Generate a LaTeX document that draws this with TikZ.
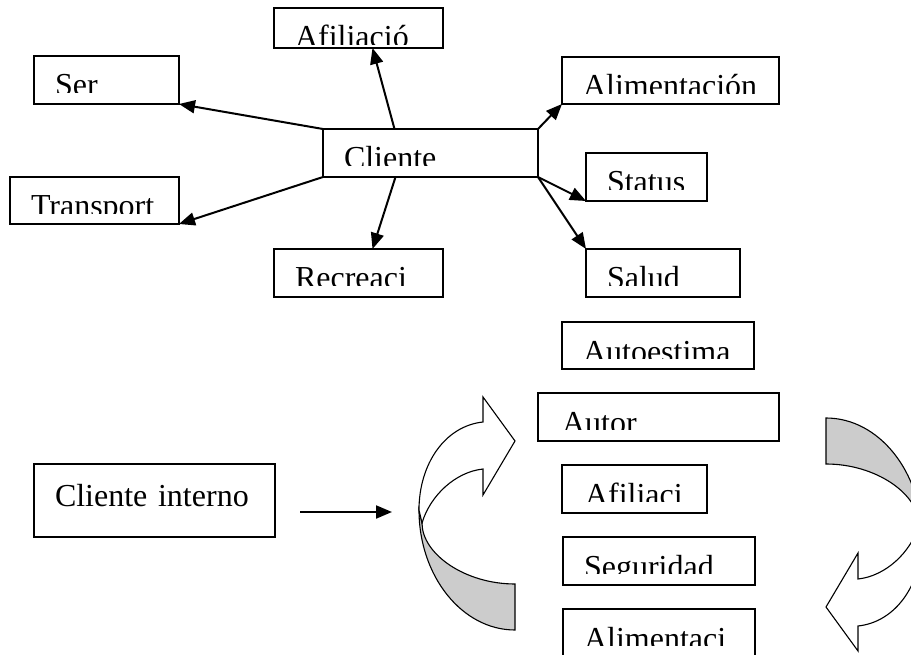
\documentclass[tikz,border=0pt]{standalone}
\usepackage{fontspec}
\setmainfont{Liberation Serif}
\definecolor{curlgray}{RGB}{204,204,204}
\usetikzlibrary{arrows.meta,positioning,calc}

\tikzset{
  caja/.style={draw,line width=2pt,anchor=north west,outer sep=0pt,
    inner xsep=21pt,inner ysep=0pt,text height=40pt,align=left,
    font=\fontsize{32}{36}\selectfont},
  conn/.style={line width=2pt,-{Triangle[length=16pt,width=13pt]}},
  curl/.pic={
    %% back side (grey)
    \filldraw[fill=curlgray,line width=1.1pt] (0,60) -- (0,106)
      .. controls (-53,106) and (-96,52) .. (-96,-14) -- (-93,-1)
      .. controls (-93,30) and (-50,60) .. (0,60) -- cycle;
    %% front side with head
    \filldraw[fill=white,line width=1.1pt] (-96,-14)
      .. controls (-96,-60) and (-70,-98) .. (-32,-102)
      -- (-32,-127) -- (0,-83) -- (-32,-29) -- (-32,-55)
      .. controls (-60,-52) and (-85,-28) .. (-93,-1) -- cycle;
  }
}

\begin{document}
\begin{tikzpicture}[x=1pt,y=-1pt]
  \clip (0,0) rectangle (911,655);

  %% Top group around Cliente
  \node[caja,text width=173pt,text depth=8pt] (cliente) at (323,129) {Cliente};
  \node[caja,text width=103pt,text depth=8pt] (ser) at (34,56) {Ser};
  \node[caja,text width=127pt,text depth=7pt] (transport) at (10,177) {Transport};
  \node[caja,text width=127pt,text depth=0pt] (afiliacio) at (274,8) {Afiliació};
  \node[caja,text width=127pt,text depth=8pt] (recreaci) at (274,249) {Recreaci};
  \node[caja,text width=175pt,text depth=7pt] (alimentacion) at (562,57) {Alimentación};
  \node[caja,text width=79pt,text depth=8pt] (status) at (586,153) {Status};
  \node[caja,text width=112pt,text depth=8pt] (salud) at (586,249) {Salud};

  \draw[conn] (cliente.north west) -- (ser.south east);
  \draw[conn] (cliente.south west) -- (transport.south east);
  \draw[conn] ([xshift=-36pt]cliente.north) -- ([xshift=14pt]afiliacio.south);
  \draw[conn] ([xshift=-35pt]cliente.south) -- ([xshift=14pt]recreaci.north);
  \draw[conn] (cliente.north east) -- (alimentacion.south west);
  \draw[conn] (cliente.south east) -- (status.south west);
  \draw[conn] (cliente.south east) -- (salud.north west);

  %% Right column
  \node[caja,text width=150pt,text depth=7pt] (autoestima) at (562,322) {Autoestima};
  \node[caja,text width=193pt,text depth=8pt,inner xsep=24pt] (autor) at (538,393) {Autor};
  \node[caja,text width=99pt,text depth=8pt,inner xsep=23pt] (afiliaci) at (562,465) {Afiliaci};
  \node[caja,text width=150pt,text depth=8pt] (seguridad) at (563,537) {Seguridad};
  \node[caja,text width=150pt,text depth=20pt] (alimentaci) at (563,609) {Alimentaci};

  %% cut text bottoms
  \foreach \b in {cliente,ser,transport,afiliacio,recreaci,alimentacion,
                  status,salud,autoestima,autor,afiliaci,seguridad,alimentaci}
    \fill[white] ([shift={(1.2pt,3pt)}]\b.base west) rectangle ([shift={(-1.2pt,1.2pt)}]\b.south east);

  %% Cliente interno
  \node[caja,text width=199pt,text height=42pt,text depth=31pt] (interno) at (34,464) {Cliente interno};
  \coordinate (ini) at (300,512);
  \coordinate (fin) at (392,512);
  \draw[conn] (ini) -- (fin);

  %% curled arrows
  \pic at (515,524) {curl};
  \pic[rotate=180] at (826,524) {curl};
\end{tikzpicture}
\end{document}
